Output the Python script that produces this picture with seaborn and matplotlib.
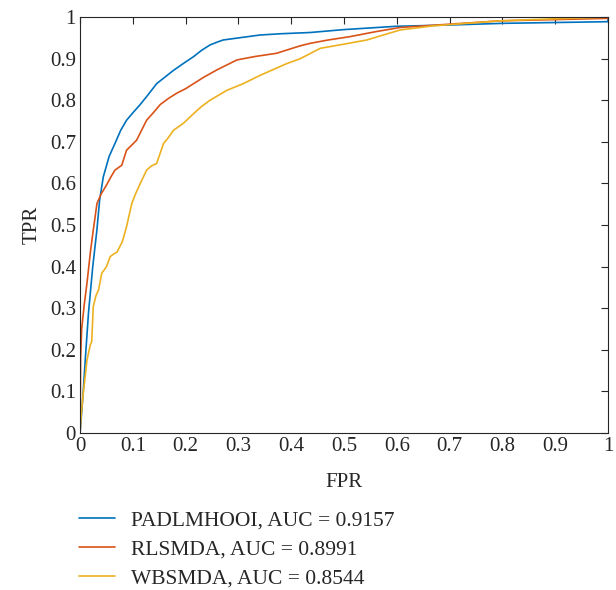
import numpy as np
import pandas as pd
import matplotlib
matplotlib.use("Agg")
import matplotlib.pyplot as plt
import seaborn as sns

# ROC points (FPR, TPR)
padl_fpr = [0, 0.003, 0.006, 0.010, 0.016, 0.024, 0.032, 0.037, 0.044, 0.055, 0.066, 0.077, 0.088,
            0.100, 0.114, 0.128, 0.145, 0.160, 0.177, 0.195, 0.215, 0.230, 0.246, 0.260, 0.271,
            0.300, 0.341, 0.380, 0.436, 0.500, 0.600, 0.700, 0.800, 0.900, 1.0, 1.0]
padl_tpr = [0, 0.05, 0.10, 0.18, 0.29, 0.40, 0.49, 0.56, 0.616, 0.665, 0.696, 0.728, 0.752,
            0.770, 0.79, 0.812, 0.84, 0.855, 0.872, 0.888, 0.905, 0.920, 0.933, 0.940, 0.945,
            0.950, 0.957, 0.960, 0.963, 0.970, 0.978, 0.981, 0.985, 0.987, 0.989, 1.0]

rls_fpr = [0, 0.001, 0.003, 0.008, 0.013, 0.020, 0.025, 0.032, 0.040, 0.050, 0.058, 0.066, 0.079,
           0.088, 0.100, 0.107, 0.126, 0.140, 0.152, 0.168, 0.183, 0.200, 0.215, 0.235, 0.259,
           0.297, 0.330, 0.372, 0.417, 0.436, 0.470, 0.511, 0.560, 0.606, 0.700, 0.795, 0.900, 1.0]
rls_tpr = [0, 0.18, 0.25, 0.31, 0.36, 0.44, 0.488, 0.552, 0.575, 0.596, 0.615, 0.632, 0.644,
           0.68, 0.695, 0.704, 0.752, 0.772, 0.79, 0.805, 0.817, 0.828, 0.84, 0.856, 0.873,
           0.897, 0.905, 0.913, 0.931, 0.937, 0.945, 0.953, 0.965, 0.975, 0.983, 0.991, 0.994, 0.997]

wbs_fpr = [0, 0.002, 0.006, 0.010, 0.013, 0.019, 0.022, 0.025, 0.030, 0.035, 0.041, 0.050, 0.057,
           0.063, 0.070, 0.080, 0.088, 0.098, 0.105, 0.114, 0.126, 0.135, 0.145, 0.158, 0.167,
           0.177, 0.196, 0.215, 0.230, 0.246, 0.278, 0.309, 0.341, 0.391, 0.417, 0.455, 0.500,
           0.543, 0.606, 0.669, 0.795, 0.900, 1.0]
wbs_tpr = [0, 0.04, 0.096, 0.14, 0.175, 0.21, 0.22, 0.304, 0.33, 0.344, 0.384, 0.40, 0.424,
           0.43, 0.435, 0.46, 0.496, 0.552, 0.575, 0.60, 0.632, 0.642, 0.648, 0.696, 0.71,
           0.728, 0.745, 0.768, 0.785, 0.80, 0.824, 0.84, 0.86, 0.888, 0.90, 0.925, 0.935,
           0.945, 0.969, 0.979, 0.991, 0.996, 1.0]

labels = ["PADLMHOOI, AUC = 0.9157", "RLSMDA, AUC = 0.8991", "WBSMDA, AUC = 0.8544"]
colors = ["#0072BD", "#D95319", "#EDB120"]
ticks = [0, 0.1, 0.2, 0.3, 0.4, 0.5, 0.6, 0.7, 0.8, 0.9, 1]
tick_labels = ["0", "0.1", "0.2", "0.3", "0.4", "0.5", "0.6", "0.7", "0.8", "0.9", "1"]

frames = []
for lab, fx, ty in zip(labels, [padl_fpr, rls_fpr, wbs_fpr], [padl_tpr, rls_tpr, wbs_tpr]):
    d = pd.DataFrame({"FPR": fx, "TPR": ty})
    d["method"] = lab
    frames.append(d)
df = pd.concat(frames, ignore_index=True)

sns.set_style("white")
plt.rcParams["font.family"] = ["Liberation Serif", "DejaVu Serif"]

fig = plt.figure(figsize=(6.16, 5.9), dpi=100)
ax = fig.add_axes([0.130, 0.266, 0.857, 0.705])

sns.lineplot(data=df, x="FPR", y="TPR", hue="method", palette=colors,
             estimator=None, sort=False, lw=1.2, ax=ax, legend=False)
for lab, c in zip(labels, colors):
    ax.plot([], [], color=c, lw=1.2, label=lab)

ax.set_xlim(0, 1)
ax.set_ylim(0, 1)
ax.set_xticks(ticks)
ax.set_xticklabels(tick_labels)
ax.set_yticks(ticks)
ax.set_yticklabels(tick_labels)
ax.tick_params(direction="in", length=5, width=0.8, colors="#262626", labelsize=15,
               top=True, right=True, labeltop=False, labelright=False, pad=3)
for s in ax.spines.values():
    s.set_color("#262626")
    s.set_linewidth(0.8)
ax.set_xlabel("FPR", fontsize=15, color="#262626", labelpad=12)
ax.set_ylabel("TPR", fontsize=15, color="#262626", labelpad=6)

fig.legend(loc="upper left", bbox_to_anchor=(0.128, 0.134), frameon=False, fontsize=15.5,
           handlelength=1.7, handletextpad=0.7, labelspacing=0.41, borderpad=0, borderaxespad=0)

fig.savefig("out.png", dpi=100)
